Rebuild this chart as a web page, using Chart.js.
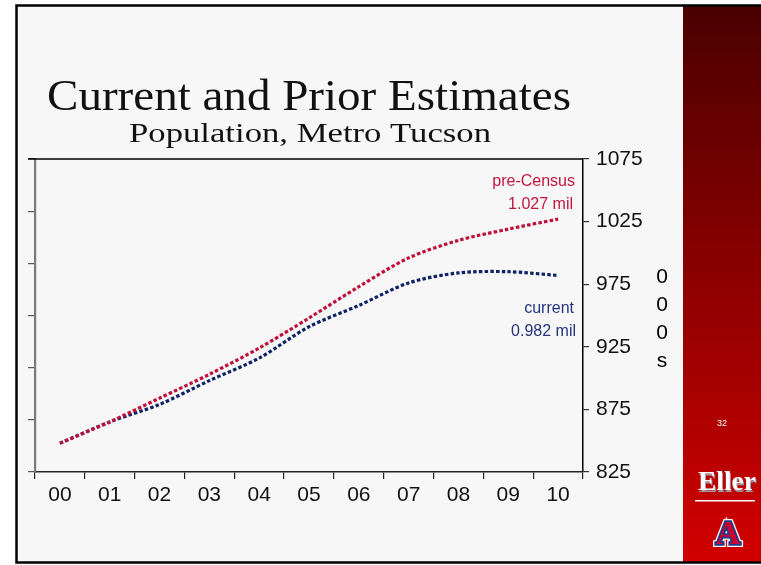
<!DOCTYPE html>
<html><head><meta charset="utf-8">
<script src="https://cdn.jsdelivr.net/npm/chart.js@4.4.1/dist/chart.umd.min.js"></script>
<style>html,body{margin:0;padding:0;background:#fff;overflow:hidden}canvas{display:block}</style>
</head><body>
<canvas id="c" width="761" height="565"></canvas>
<script>
// ---- data ----
const years = ['00','01','02','03','04','05','06','07','08','09','10'];
const preCensus = [848,865,884,903,924,948,973,996,1010,1019,1027];
const current = [848,865,879,898,916,941,958,976,984,985,982];
const yMin = 825, yMax = 1075, yStep = 50;
const titleText = 'Current and Prior Estimates';
const subtitleText = 'Population, Metro Tucson';
const unitChars = ['0','0','0','s'];
const preLabel = ['pre-Census','1.027 mil'];
const curLabel = ['current','0.982 mil'];
const slideNumber = '32';

const RED = '#c0103a', BLUE = '#102266';
const RED_TXT = '#c5153f', BLUE_TXT = '#24337c';

function fitText(ctx, text, cx, y, font, width) {
  ctx.save();
  ctx.font = font;
  const w = ctx.measureText(text).width;
  const s = width / w;
  ctx.translate(cx, y);
  ctx.scale(s, 1);
  ctx.textAlign = 'center';
  ctx.fillText(text, 0, 0);
  ctx.restore();
}

const deco = {
  id: 'deco',
  beforeDraw(chart) {
    const ctx = chart.ctx;
    ctx.save();
    ctx.fillStyle = '#ffffff';
    ctx.fillRect(0, 0, 761, 565);
    ctx.fillStyle = '#f7f7f7';
    ctx.fillRect(16, 5, 745, 558);
    // right panel
    const g = ctx.createLinearGradient(0, 6, 0, 562);
    g.addColorStop(0, '#4a0000');
    g.addColorStop(0.5, '#8e0000');
    g.addColorStop(1, '#d20000');
    ctx.fillStyle = g;
    ctx.fillRect(683, 6, 78, 556);
    // frame
    ctx.strokeStyle = '#000';
    ctx.lineWidth = 2.5;
    ctx.strokeRect(16.5, 5.5, 760, 557);
    // slide number
    ctx.fillStyle = '#ffffff';
    ctx.font = '9px "Liberation Sans"';
    ctx.textAlign = 'center';
    ctx.textBaseline = 'middle';
    ctx.fillText(slideNumber, 722, 424);
    // Eller logo
    ctx.textBaseline = 'alphabetic';
    ctx.fillStyle = '#9a9aa8';
    fitText(ctx, 'Eller', 728, 492, 'bold 28px "Liberation Serif"', 58);
    ctx.fillStyle = '#ffffff';
    fitText(ctx, 'Eller', 727, 490, 'bold 28px "Liberation Serif"', 58);
    ctx.fillRect(695, 500, 60, 1.5);
    // A logo
    ctx.font = 'bold 34px "Liberation Serif"';
    ctx.textAlign = 'center';
    ctx.lineJoin = 'miter';
    ctx.strokeStyle = '#ffffff'; ctx.lineWidth = 6;
    ctx.strokeText('A', 728, 544);
    ctx.strokeStyle = '#1b3a8a'; ctx.lineWidth = 3.5;
    ctx.strokeText('A', 728, 544);
    ctx.fillStyle = '#cc0033';
    ctx.fillText('A', 728, 544);
    // titles
    ctx.fillStyle = '#111';
    fitText(ctx, titleText, 309, 110, '44px "Liberation Serif"', 524);
    fitText(ctx, subtitleText, 310, 142, '27px "Liberation Serif"', 362);
    ctx.restore();
  },
  afterDraw(chart) {
    const ctx = chart.ctx;
    const a = chart.chartArea;
    ctx.save();
    ctx.strokeStyle = '#000';
    ctx.lineWidth = 1.5;
    ctx.beginPath();
    ctx.moveTo(28, a.top); ctx.lineTo(a.right, a.top);
    ctx.stroke();
    ctx.font = '16px "Liberation Sans"';
    ctx.textAlign = 'right';
    ctx.textBaseline = 'middle';
    ctx.fillStyle = RED_TXT;
    ctx.fillText(preLabel[0], 575, 182);
    ctx.fillText(preLabel[1], 573, 205);
    ctx.fillStyle = BLUE_TXT;
    ctx.fillText(curLabel[0], 574, 309);
    ctx.fillText(curLabel[1], 576, 332);
    ctx.fillStyle = '#000';
    ctx.font = '21px "Liberation Sans"';
    ctx.textAlign = 'center';
    unitChars.forEach((c, i) => ctx.fillText(c, 662, 277 + i * 28));
    ctx.restore();
  }
};

new Chart(document.getElementById('c'), {
  type: 'line',
  data: {
    labels: years,
    datasets: [
      { label: 'pre-Census', data: preCensus, borderColor: RED, borderWidth: 3.2,
        borderDash: [3.5, 2.2], pointRadius: 0, tension: 0.3, yAxisID: 'y', fill: false },
      { label: 'current', data: current, borderColor: BLUE, borderWidth: 3.2,
        borderDash: [3.5, 2.2], pointRadius: 0, tension: 0.3, yAxisID: 'y', fill: false }
    ]
  },
  options: {
    responsive: false,
    animation: false,
    layout: { padding: { top: 159, left: 0, right: 0, bottom: 0 } },
    plugins: { legend: { display: false }, tooltip: { enabled: false }, title: { display: false } },
    scales: {
      x: {
        type: 'category', offset: true,
        grid: { offset: true, drawOnChartArea: false, drawTicks: true, tickLength: 7, color: '#222', lineWidth: 1.2 },
        border: { color: '#222', width: 1.5 },
        ticks: { color: '#111', font: { family: 'Liberation Sans', size: 21 }, padding: 4, maxRotation: 0 },
        afterFit(s) { s.height = 93; }
      },
      yL: {
        position: 'left', min: 0, max: 6,
        ticks: { display: false, stepSize: 1 },
        grid: { drawOnChartArea: false, drawTicks: true, tickLength: 7, color: '#555', lineWidth: 1.2 },
        border: { color: '#7a7a7a', width: 2.2 },
        afterFit(s) { s.width = 35; }
      },
      y: {
        position: 'right', min: yMin, max: yMax,
        ticks: { stepSize: yStep, color: '#111', font: { family: 'Liberation Sans', size: 21 }, padding: 7,
                 callback: (v) => String(v) },
        grid: { drawOnChartArea: false, drawTicks: true, tickLength: 6, color: '#333', lineWidth: 1.2 },
        border: { color: '#000', width: 1.5 },
        afterFit(s) { s.width = 178; }
      }
    }
  },
  plugins: [deco]
});
</script>
</body></html>
